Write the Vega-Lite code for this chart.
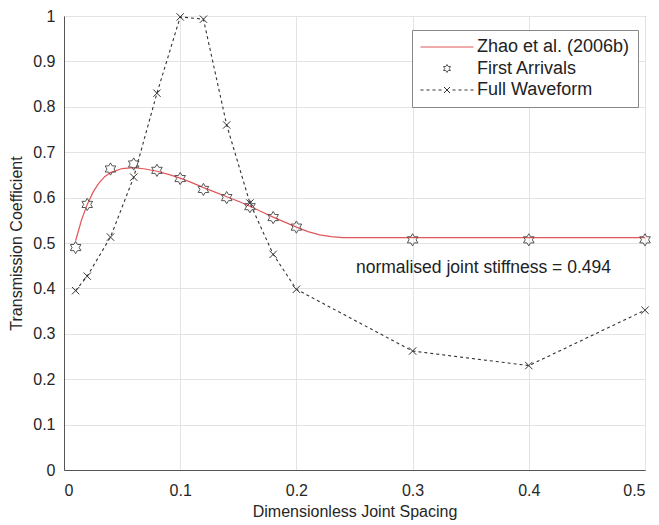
{
  "$schema": "https://vega.github.io/schema/vega-lite/v6.json",
  "autosize": "none",
  "width": 581,
  "height": 454,
  "padding": {"left": 64, "top": 16, "right": 14, "bottom": 55},
  "background": "white",
  "config": {
    "font": "Liberation Sans",
    "view": {"stroke": "#666", "strokeWidth": 1},
    "axis": {
      "labelFont": "Liberation Sans",
      "titleFont": "Liberation Sans",
      "labelFontSize": 16,
      "titleFontSize": 16,
      "titleFontWeight": "normal",
      "labelColor": "#262626",
      "titleColor": "#262626",
      "gridColor": "#e3e3e3",
      "domainColor": "#555",
      "tickColor": "#555",
      "tickSize": 0,
      "format": ".1~f"
    },
    "legend": {
      "strokeColor": "#888",
      "fillColor": "white",
      "padding": 8,
      "labelFontSize": 18,
      "labelColor": "#222",
      "labelFont": "Liberation Sans",
      "symbolSize": 100,
      "symbolOffset": 18,
      "labelOffset": 21,
      "rowPadding": 3.5,
      "symbolStrokeWidth": 1,
      "symbolOpacity": 1
    }
  },
  "data": {
    "values": [
      {"series": "Zhao et al. (2006b)", "x": 0.01, "y": 0.505},
      {"series": "Zhao et al. (2006b)", "x": 0.015, "y": 0.55},
      {"series": "Zhao et al. (2006b)", "x": 0.02, "y": 0.585},
      {"series": "Zhao et al. (2006b)", "x": 0.025, "y": 0.612},
      {"series": "Zhao et al. (2006b)", "x": 0.03, "y": 0.632},
      {"series": "Zhao et al. (2006b)", "x": 0.035, "y": 0.646},
      {"series": "Zhao et al. (2006b)", "x": 0.04, "y": 0.655},
      {"series": "Zhao et al. (2006b)", "x": 0.05, "y": 0.664},
      {"series": "Zhao et al. (2006b)", "x": 0.06, "y": 0.666},
      {"series": "Zhao et al. (2006b)", "x": 0.07, "y": 0.663},
      {"series": "Zhao et al. (2006b)", "x": 0.08, "y": 0.658},
      {"series": "Zhao et al. (2006b)", "x": 0.09, "y": 0.651},
      {"series": "Zhao et al. (2006b)", "x": 0.1, "y": 0.643},
      {"series": "Zhao et al. (2006b)", "x": 0.11, "y": 0.633},
      {"series": "Zhao et al. (2006b)", "x": 0.12, "y": 0.622},
      {"series": "Zhao et al. (2006b)", "x": 0.13, "y": 0.612},
      {"series": "Zhao et al. (2006b)", "x": 0.14, "y": 0.602},
      {"series": "Zhao et al. (2006b)", "x": 0.15, "y": 0.592},
      {"series": "Zhao et al. (2006b)", "x": 0.16, "y": 0.581},
      {"series": "Zhao et al. (2006b)", "x": 0.17, "y": 0.569},
      {"series": "Zhao et al. (2006b)", "x": 0.18, "y": 0.557},
      {"series": "Zhao et al. (2006b)", "x": 0.19, "y": 0.546},
      {"series": "Zhao et al. (2006b)", "x": 0.2, "y": 0.535},
      {"series": "Zhao et al. (2006b)", "x": 0.21, "y": 0.525},
      {"series": "Zhao et al. (2006b)", "x": 0.22, "y": 0.518},
      {"series": "Zhao et al. (2006b)", "x": 0.23, "y": 0.514},
      {"series": "Zhao et al. (2006b)", "x": 0.24, "y": 0.512},
      {"series": "Zhao et al. (2006b)", "x": 0.25, "y": 0.512},
      {"series": "Zhao et al. (2006b)", "x": 0.3, "y": 0.512},
      {"series": "Zhao et al. (2006b)", "x": 0.4, "y": 0.512},
      {"series": "Zhao et al. (2006b)", "x": 0.5, "y": 0.512},
      {"series": "First Arrivals", "x": 0.01, "y": 0.49},
      {"series": "First Arrivals", "x": 0.02, "y": 0.585},
      {"series": "First Arrivals", "x": 0.04, "y": 0.663},
      {"series": "First Arrivals", "x": 0.06, "y": 0.674},
      {"series": "First Arrivals", "x": 0.08, "y": 0.66},
      {"series": "First Arrivals", "x": 0.1, "y": 0.642},
      {"series": "First Arrivals", "x": 0.12, "y": 0.618},
      {"series": "First Arrivals", "x": 0.14, "y": 0.6},
      {"series": "First Arrivals", "x": 0.16, "y": 0.58},
      {"series": "First Arrivals", "x": 0.18, "y": 0.556},
      {"series": "First Arrivals", "x": 0.2, "y": 0.535},
      {"series": "First Arrivals", "x": 0.3, "y": 0.507},
      {"series": "First Arrivals", "x": 0.4, "y": 0.507},
      {"series": "First Arrivals", "x": 0.5, "y": 0.507},
      {"series": "Full Waveform", "x": 0.01, "y": 0.395},
      {"series": "Full Waveform", "x": 0.02, "y": 0.427},
      {"series": "Full Waveform", "x": 0.04, "y": 0.513},
      {"series": "Full Waveform", "x": 0.06, "y": 0.645},
      {"series": "Full Waveform", "x": 0.08, "y": 0.83},
      {"series": "Full Waveform", "x": 0.1, "y": 0.998},
      {"series": "Full Waveform", "x": 0.12, "y": 0.993},
      {"series": "Full Waveform", "x": 0.14, "y": 0.76},
      {"series": "Full Waveform", "x": 0.16, "y": 0.588},
      {"series": "Full Waveform", "x": 0.18, "y": 0.475},
      {"series": "Full Waveform", "x": 0.2, "y": 0.398},
      {"series": "Full Waveform", "x": 0.3, "y": 0.262},
      {"series": "Full Waveform", "x": 0.4, "y": 0.23},
      {"series": "Full Waveform", "x": 0.5, "y": 0.352}
    ]
  },
  "encoding": {
    "x": {"field": "x", "type": "quantitative", "scale": {"domain": [0, 0.5], "nice": false}, "axis": {"title": "Dimensionless Joint Spacing", "values": [0, 0.1, 0.2, 0.3, 0.4, 0.5], "labelPadding": 12, "titlePadding": 5}},
    "y": {"field": "y", "type": "quantitative", "scale": {"domain": [0, 1], "nice": false}, "axis": {"title": "Transmission Coefficient", "values": [0, 0.1, 0.2, 0.3, 0.4, 0.5, 0.6, 0.7, 0.8, 0.9, 1], "labelPadding": 9, "titlePadding": 8}}
  },
  "layer": [
    {
      "transform": [{"filter": "datum.series === 'Zhao et al. (2006b)'"}],
      "mark": {"type": "line", "strokeWidth": 1.2, "color": "#e0565b"},
      "encoding": {}
    },
    {
      "transform": [{"filter": "datum.series === 'Full Waveform'"}],
      "mark": {"type": "line", "strokeWidth": 1.1, "color": "#333333", "strokeDash": [3, 3]},
      "encoding": {}
    },
    {
      "transform": [{"filter": "datum.series === 'First Arrivals'"}],
      "mark": {"type": "point", "filled": false, "strokeWidth": 1, "opacity": 1, "color": "#555555", "size": 150, "shape": "M0,-1L0.289,-0.5L0.866,-0.5L0.577,0L0.866,0.5L0.289,0.5L0,1L-0.289,0.5L-0.866,0.5L-0.577,0L-0.866,-0.5L-0.289,-0.5Z"},
      "encoding": {}
    },
    {
      "transform": [{"filter": "datum.series === 'Full Waveform'"}],
      "mark": {"type": "point", "filled": false, "strokeWidth": 1, "opacity": 1, "color": "#333333", "size": 150, "shape": "M-0.6,-0.6L0.6,0.6M-0.6,0.6L0.6,-0.6"},
      "encoding": {}
    },
    {
      "transform": [{"filter": "datum.series !== 'Zhao et al. (2006b)'"}],
      "mark": {"type": "point", "filled": false, "strokeWidth": 1, "opacity": 0},
      "encoding": {
        "color": {"field": "series", "type": "nominal",
          "scale": {"domain": ["Zhao et al. (2006b)", "First Arrivals", "Full Waveform"], "range": ["#e0565b", "#555555", "#333333"]},
          "legend": {"title": null, "orient": "none", "legendX": 348, "legendY": 14}},
        "shape": {
          "field": "series", "type": "nominal",
          "scale": {"domain": ["Zhao et al. (2006b)", "First Arrivals", "Full Waveform"], "range": ["M-5.3,0L5.3,0", "M0,-0.8L0.23,-0.4L0.69,-0.4L0.46,0L0.69,0.4L0.23,0.4L0,0.8L-0.23,0.4L-0.69,0.4L-0.46,0L-0.69,-0.4L-0.23,-0.4Z", "M-5.3,0L-4.7,0M-4.1,0L-3.5,0M-2.9,0L-2.3,0M-1.7,0L-1.1,0M1.1,0L1.7,0M2.3,0L2.9,0M3.5,0L4.1,0M4.7,0L5.3,0M-0.6,-0.6L0.6,0.6M-0.6,0.6L0.6,-0.6"]},
          "legend": {"title": null, "orient": "none", "legendX": 348, "legendY": 14}
        }
      }
    },
    {
      "data": {"values": [{"x": 0.361, "y": 0.445, "label": "normalised joint stiffness = 0.494"}]},
      "mark": {"type": "text", "fontSize": 17.5, "color": "#222", "font": "Liberation Sans"},
      "encoding": {"text": {"field": "label"}}
    }
  ]
}
